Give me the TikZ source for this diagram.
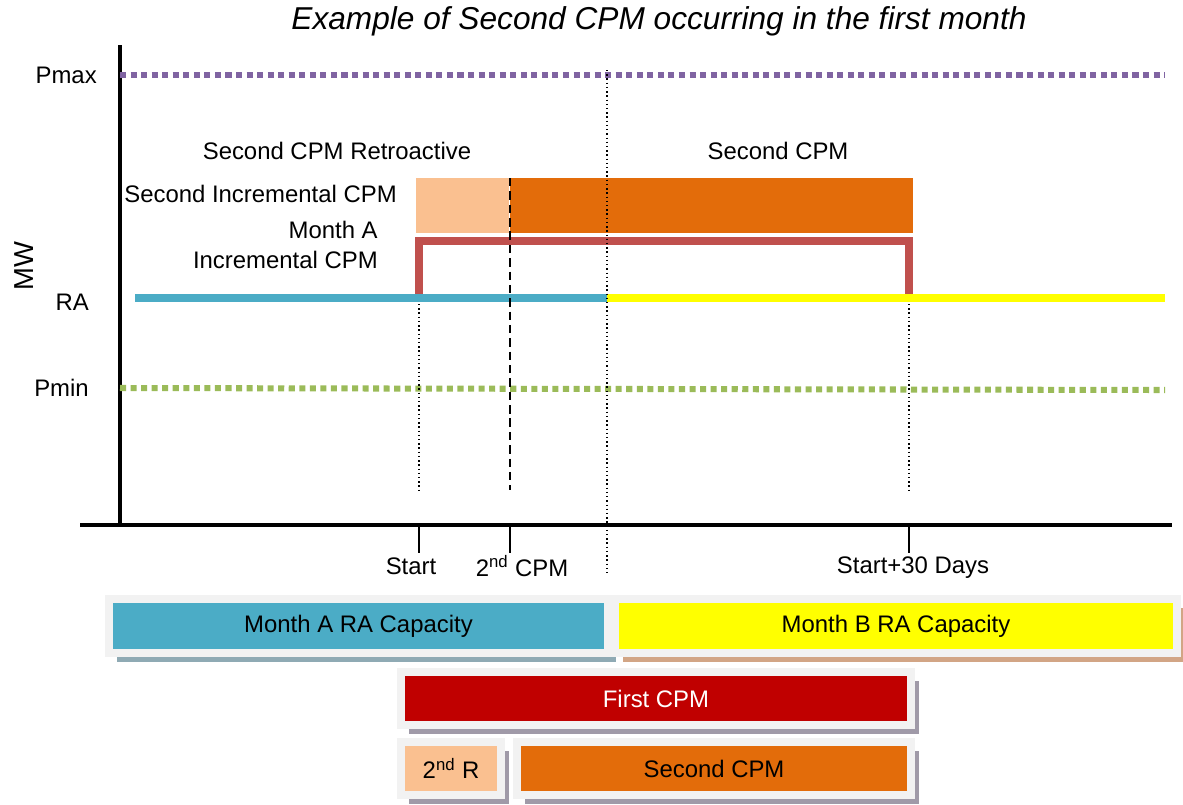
\documentclass[tikz,border=0pt]{standalone}
\usepackage{fontspec}
\setmainfont{Liberation Sans}
\usetikzlibrary{positioning}
\usetikzlibrary{shadows}

\definecolor{pmaxc}{RGB}{128,100,162}
\definecolor{pminc}{RGB}{155,187,89}
\definecolor{raA}{RGB}{75,172,198}
\definecolor{raB}{RGB}{255,255,0}
\definecolor{cpmred}{RGB}{192,80,77}
\definecolor{firstc}{RGB}{192,0,0}
\definecolor{retro}{RGB}{250,192,144}
\definecolor{cpmtwo}{RGB}{227,108,10}
\definecolor{frame}{RGB}{242,242,242}
\definecolor{shA}{RGB}{143,170,180}
\definecolor{shB}{RGB}{210,165,133}
\definecolor{shC}{RGB}{160,154,168}

\begin{document}
\begin{tikzpicture}[
    x=0.025cm, y=-0.025cm,
    lbl/.style={font=\fontsize{17}{20}\selectfont, inner sep=0pt},
    axisline/.style={line width=2.2pt},
    level/.style={line width=4.3pt, dash pattern=on 4.3pt off 3.2pt},
    raline/.style={line width=5pt},
    bar/.style={fill=#1, minimum height=1.375cm, inner sep=0pt},
    legend/.style={fill=#1, draw=frame, line width=0.2cm, minimum height=1.35cm,
        font=\fontsize{17}{20}\selectfont, inner sep=0pt},
    shadowed/.style={general shadow={fill=#1, shadow xshift=0.2cm, shadow yshift=-0.22cm}}
]
    \useasboundingbox (0,0) rectangle (1183,804);

    % title
    \node[font=\fontsize{22.5}{26}\selectfont\itshape, inner sep=0pt] (title) at (659,21)
        {Example of Second CPM occurring in the first month};

    % axes
    \coordinate (ytop) at (120,45);
    \coordinate (orig) at (120,525);
    \coordinate (xl) at (80,525);
    \coordinate (xr) at (1172,525);
    \draw[axisline] (ytop) -- (orig);
    \draw[axisline] (xl) -- (xr);
    \node[lbl, font=\fontsize{19.5}{22}\selectfont, rotate=90] (mw) at (24,266) {MW};

    % levels
    \node[lbl, anchor=east] (pmax) at (97,75) {Pmax};
    \node[lbl, anchor=east] (pmin) at (89,388) {Pmin};
    \node[lbl, anchor=east] (ra) at (89,302) {RA};
    \draw[level, pmaxc] (120,75) coordinate (pmaxL) -- (1165,75) coordinate (pmaxR);
    \draw[level, pminc] (120,388) coordinate (pminL) -- (1165,390) coordinate (pminR);

    % event times
    \coordinate (sA) at (419,298);
    \coordinate (sB) at (909,298);
    \coordinate (cpm) at (510,178);
    \coordinate (mid) at (607,70);

    % incremental CPM bars
    \node[bar=retro, minimum width=2.325cm] (retrobar) at (462.5,205.5) {};
    \node[bar=cpmtwo, minimum width=10.075cm, anchor=west] (cpm2bar) at (retrobar.east) {};
    \draw[cpmred, line width=5pt] (sA) -- ++(0,-57) -| (sB);

    % RA capacity
    \coordinate (raL) at (135,298);
    \coordinate (raM) at (607,298);
    \coordinate (raR) at (1165,298);
    \draw[raline, raA] (raL) -- (raM);
    \draw[raline, raB] (raM) -- (raR);

    % markers
    \draw[line width=1.6pt, dash pattern=on 6pt off 3.5pt] (cpm) -- (cpm |- 0,490);
    \draw[line width=1pt, dotted] (mid) -- (mid |- 0,575);
    \draw[line width=1pt, dotted] (sA) ++(0,6) -- (sA |- 0,490);
    \draw[line width=1pt, dotted] (sB) ++(0,6) -- (sB |- 0,490);

    % ticks
    \draw[line width=1pt] (sA |- orig) -- (sA |- 0,553);
    \draw[line width=1pt] (cpm |- orig) -- (cpm |- 0,553);
    \draw[line width=1pt] (sB |- orig) -- (sB |- 0,553);
    \node[lbl] (start) at (411,566) {Start};
    \node[lbl] (cpmlbl) at (522,566) {2\textsuperscript{nd} CPM};
    \node[lbl] (end) at (913,568) {Start+30 Days};

    % labels
    \node[lbl] (retrolbl) at (337,151) {Second CPM Retroactive};
    \node[lbl] (cpm2lbl) at (778,151) {Second CPM};
    \node[lbl, anchor=east] (inclbl) at (397,194) {Second Incremental CPM};
    \node[lbl, anchor=east, align=right] (monthlbl) at (378,245) {Month A\\[1pt]Incremental CPM};

    % legend
    \node[legend=raA, shadowed=shA, minimum width=12.475cm] (monthA) at (358.5,626) {Month A RA Capacity};
    \node[legend=raB, shadowed=shB, minimum width=14.05cm] (monthB) at (896,626) {Month B RA Capacity};
    \node[legend=firstc, shadowed=shC, minimum width=12.75cm, minimum height=1.325cm,
        text=white] (first) at (656,698.5) {First CPM};
    \node[legend=retro, shadowed=shC, minimum width=2.5cm, minimum height=1.325cm] (second r) at (451,768.5) {2\textsuperscript{nd} R};
    \node[legend=cpmtwo, shadowed=shC, minimum width=9.85cm, minimum height=1.325cm] (second) at (714,768.5) {Second CPM};
\end{tikzpicture}
\end{document}
